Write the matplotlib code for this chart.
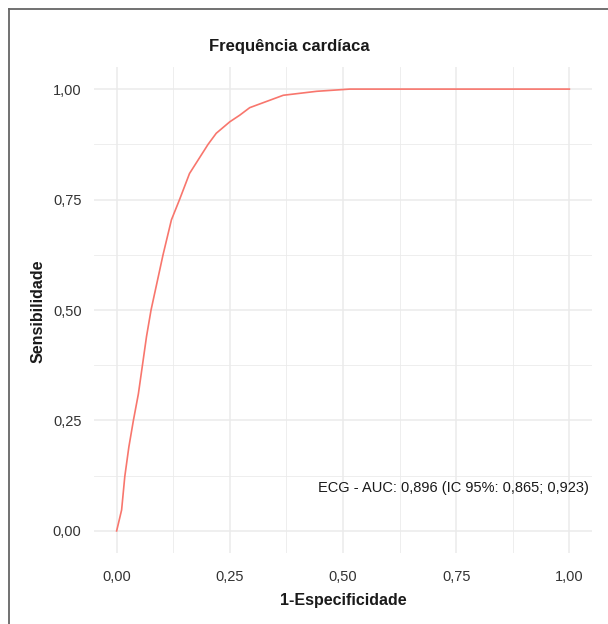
import matplotlib.pyplot as plt
from matplotlib.lines import Line2D
from matplotlib.ticker import FixedLocator

plt.rcParams['font.family'] = ['Liberation Sans Narrow', 'Liberation Sans', 'DejaVu Sans']

# curve
fpr = [0, 0.011, 0.018, 0.027, 0.037, 0.048, 0.057, 0.066, 0.076, 0.1025, 0.121,
       0.139, 0.161, 0.202, 0.220, 0.25, 0.272, 0.294, 0.368, 0.442, 0.515, 1.0]
tpr = [0, 0.0475, 0.123, 0.19, 0.25, 0.31, 0.375, 0.44, 0.5, 0.625, 0.704,
       0.75, 0.809, 0.875, 0.900, 0.926, 0.941, 0.958, 0.986, 0.995, 1.0, 1.0]
ticks = [0, 0.25, 0.5, 0.75, 1.0]
minor_ticks = [0.125, 0.375, 0.625, 0.875]
tick_labels = ["0,00", "0,25", "0,50", "0,75", "1,00"]
title = "Frequência cardíaca"
xlabel = "1-Especificidade"
ylabel = "Sensibilidade"
note = "ECG - AUC: 0,896 (IC 95%: 0,865; 0,923)"

fig = plt.figure(figsize=(6.08, 6.24), dpi=100)
ax = fig.add_axes([94 / 608, 1 - 553 / 624, 498 / 608, 486 / 624])

ax.plot(fpr, tpr, color="#F8766D", lw=1.2, zorder=3, solid_joinstyle="round")

ax.set_xlim(-0.05, 1.05)
ax.set_ylim(-0.05, 1.05)
ax.xaxis.set_major_locator(FixedLocator(ticks))
ax.yaxis.set_major_locator(FixedLocator(ticks))
ax.xaxis.set_minor_locator(FixedLocator(minor_ticks))
ax.yaxis.set_minor_locator(FixedLocator(minor_ticks))
ax.set_xticklabels(tick_labels)
ax.set_yticklabels(tick_labels)
ax.grid(which="major", color="#EBEBEB", lw=1.1)
ax.grid(which="minor", color="#EBEBEB", lw=0.6)
ax.set_axisbelow(True)
ax.tick_params(which="both", length=0, labelsize=10.5, colors="#333333", pad=9)
ax.tick_params(axis="x", pad=12)
for s in ax.spines.values():
    s.set_visible(False)

ax.text(1.042, 0.097, note, ha="right", va="center", fontsize=10.5, color="#1a1a1a")

fig.text(289 / 608, 1 - 46 / 624, title, ha="center", va="center",
         fontsize=12, fontweight="bold", color="#1a1a1a")
fig.text(343 / 608, 1 - 601 / 624, xlabel, ha="center", va="center",
         fontsize=11.5, fontweight="bold", color="#1a1a1a")
fig.text(38 / 608, 1 - 311 / 624, ylabel, ha="center", va="center", rotation=90,
         fontsize=11.5, fontweight="bold", color="#1a1a1a")

# outer frame (top and left only, as in the reference)
fig.add_artist(Line2D([9 / 608, 1], [1 - 8.5 / 624] * 2, transform=fig.transFigure,
                      color="#666666", lw=1.3))
fig.add_artist(Line2D([9 / 608] * 2, [0, 1 - 8.5 / 624], transform=fig.transFigure,
                      color="#666666", lw=1.3))

fig.savefig("out.png", dpi=100)
